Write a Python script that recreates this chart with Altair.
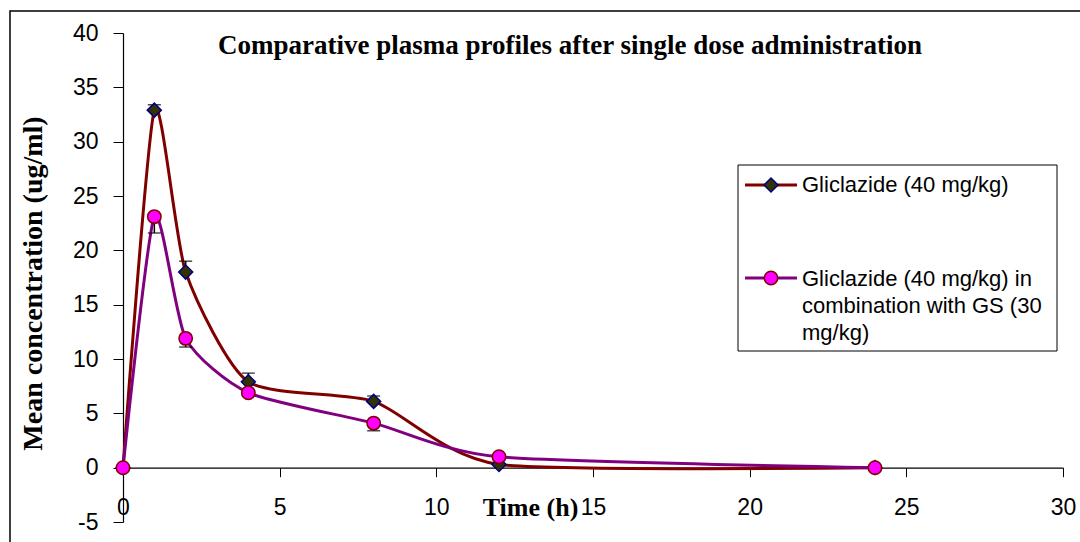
import altair as alt
import pandas as pd

# ---- data ----
time_h = [0, 1, 2, 4, 8, 12, 24]
glic_mean = [0, 32.9, 18.0, 7.9, 6.1, 0.3, 0]
glic_err = [0, 0.5, 1.0, 0.8, 0.5, 0, 0]
combo_mean = [0, 23.1, 11.9, 6.9, 4.1, 1.0, 0]
combo_err = [0, 1.5, 0.8, 0.3, 0.7, 0, 0]
series_names = [
    "Gliclazide (40 mg/kg)",
    "Gliclazide (40 mg/kg) in\ncombination with GS (30\nmg/kg)",
]
chart_title = "Comparative plasma profiles after single dose administration"
x_ticks = [0, 5, 10, 15, 20, 25, 30]
y_ticks = [-5, 0, 5, 10, 15, 20, 25, 30, 35, 40]

df_g = pd.DataFrame({"t": time_h, "v": glic_mean, "e": glic_err})
df_g["hi"] = df_g["v"] + df_g["e"]
df_c = pd.DataFrame({"t": time_h, "v": combo_mean, "e": combo_err})
df_c["lo"] = df_c["v"] - df_c["e"]
err_g = df_g[df_g["e"] > 0]
err_c = df_c[df_c["e"] > 0]

W, H = 940, 489
xscale = alt.Scale(domain=[0, 30], nice=False)
yscale = alt.Scale(domain=[-5, 40], nice=False, zero=False)

x_axis = alt.Axis(
    values=x_ticks, labelExpr="'' + datum.value", grid=False, offset=-H * 5 / 45,
    title="Time (h)", titleFont="Liberation Serif", titleFontSize=26,
    titleFontWeight="bold", titleColor="black", titleX=407, titleY=48,
    titleAlign="center", titleBaseline="alphabetic",
    labelFont="Liberation Sans", labelFontSize=23, labelColor="black",
    labelPadding=20, labelFlush=False, labelOverlap=False,
    tickSize=9, tickColor="black", domainColor="black", domainWidth=1.2,
)
y_axis = alt.Axis(
    values=y_ticks, labelExpr="'' + datum.value", grid=False,
    title="Mean concentration (ug/ml)", titleFont="Liberation Serif",
    titleFontSize=28, titleFontWeight="bold", titleColor="black",
    titleAngle=270, titleX=-90, titleY=250, titleAlign="center",
    titleBaseline="middle",
    labelFont="Liberation Sans", labelFontSize=23, labelColor="black",
    labelPadding=15, labelFlush=False, labelOverlap=False,
    tickSize=10, tickColor="black", domainColor="black", domainWidth=1.2,
)

X = alt.X("t:Q", scale=xscale, axis=x_axis)
Y = alt.Y("v:Q", scale=yscale, axis=y_axis)

line_g = alt.Chart(df_g).mark_line(
    interpolate="cardinal", tension=0.35, color="#800000", strokeWidth=3
).encode(x=X, y=Y)
line_c = alt.Chart(df_c).mark_line(
    interpolate="cardinal", tension=0.35, color="#800080", strokeWidth=3
).encode(x=X, y=Y)

eb_g = alt.Chart(err_g).mark_rule(color="black", strokeWidth=1.5).encode(
    x=X, y=Y, y2="hi:Q")
cap_g = alt.Chart(err_g).mark_tick(
    orient="horizontal", color="black", size=13, thickness=1.5
).encode(x=X, y=alt.Y("hi:Q", scale=yscale, axis=y_axis))
eb_c = alt.Chart(err_c).mark_rule(color="black", strokeWidth=1.5).encode(
    x=X, y=Y, y2="lo:Q")
cap_c = alt.Chart(err_c).mark_tick(
    orient="horizontal", color="black", size=13, thickness=1.5
).encode(x=X, y=alt.Y("lo:Q", scale=yscale, axis=y_axis))

pt_g = alt.Chart(df_g).mark_point(
    shape="diamond", filled=True, fill="#333300", stroke="#000080",
    strokeWidth=1.5, size=196, opacity=1
).encode(x=X, y=Y)
pt_c = alt.Chart(df_c).mark_point(
    shape="circle", filled=True, fill="#FF00FF", stroke="#800000",
    strokeWidth=1.5, size=180, opacity=1
).encode(x=X, y=Y)

one = pd.DataFrame({"k": [0]})
base = alt.Chart(one)

frame = base.mark_rect(fill=None, stroke="black", strokeWidth=1.5).encode(
    x=alt.value(-113), x2=alt.value(1000), y=alt.value(-22), y2=alt.value(600))

title_txt = base.mark_text(
    text=chart_title, font="Liberation Serif", fontSize=27, fontWeight="bold",
    align="center", baseline="alphabetic", color="black"
).encode(x=alt.value(447), y=alt.value(20.5))

leg_box = base.mark_rect(fill="white", stroke="black", strokeWidth=1).encode(
    x=alt.value(615), x2=alt.value(934), y=alt.value(132), y2=alt.value(318))
leg_l1 = base.mark_rule(color="#800000", strokeWidth=3).encode(
    x=alt.value(622), x2=alt.value(674), y=alt.value(152))
leg_p1 = base.mark_point(
    shape="diamond", filled=True, fill="#333300", stroke="#000080",
    strokeWidth=1.5, size=196, opacity=1
).encode(x=alt.value(648), y=alt.value(152))
leg_t1 = base.mark_text(
    text=series_names[0], font="Liberation Sans", fontSize=22, align="left",
    baseline="middle", color="black"
).encode(x=alt.value(679), y=alt.value(152))
leg_l2 = base.mark_rule(color="#800080", strokeWidth=3).encode(
    x=alt.value(622), x2=alt.value(674), y=alt.value(245))
leg_p2 = base.mark_point(
    shape="circle", filled=True, fill="#FF00FF", stroke="#800000",
    strokeWidth=1.5, size=180, opacity=1
).encode(x=alt.value(648), y=alt.value(245))
leg_t2 = base.mark_text(
    text=series_names[1], font="Liberation Sans", fontSize=22, align="left",
    baseline="alphabetic", lineBreak="\n", lineHeight=27, color="black"
).encode(x=alt.value(679), y=alt.value(253))

chart = alt.layer(
    frame, line_g, line_c, eb_g, cap_g, eb_c, cap_c, pt_g, pt_c,
    title_txt, leg_box, leg_l1, leg_p1, leg_t1, leg_l2, leg_p2, leg_t2
).properties(
    width=W, height=H,
    autosize=alt.AutoSizeParams(type="none"),
    padding={"left": 123, "top": 33, "right": 17, "bottom": 20},
    background="white",
).configure_view(stroke=None)

chart.save("out.html", embed_options={"renderer": "svg", "actions": False})
